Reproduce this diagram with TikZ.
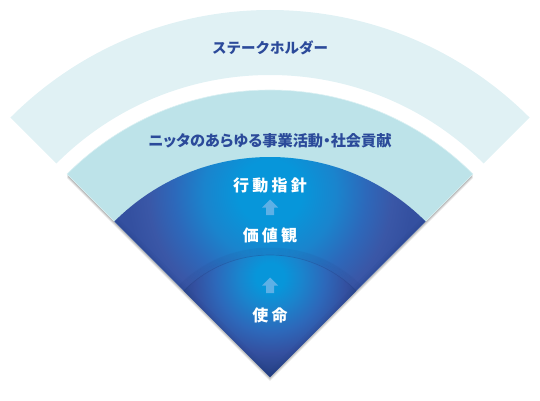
\documentclass[tikz,border=0pt]{standalone}
\usepackage{fontspec}
\newfontfamily\jp{Noto Sans CJK JP}
\newfontfamily\jpp{Noto Sans CJK JP}[RawFeature=+palt]
\newfontfamily\jpw{Noto Sans CJK JP}[LetterSpace=20]
\definecolor{outerband}{HTML}{E0F1F4}
\definecolor{lightband}{HTML}{BDE3E9}
\definecolor{txtblue}{HTML}{2B4A9A}
\definecolor{fb}{HTML}{0796DA}
\definecolor{fb2}{HTML}{1A84CD}
\definecolor{fm}{HTML}{2D68BA}
\definecolor{fd}{HTML}{3A57A7}
\definecolor{fd2}{HTML}{3450A0}
\definecolor{fdeep}{HTML}{233E80}
\definecolor{arrowc}{HTML}{5DB0E6}
\pgfdeclareradialshading{fanouter}{\pgfpoint{0bp}{0bp}}{color(0bp)=(fb); color(32bp)=(fb); color(66bp)=(fb2); color(96bp)=(fm); color(122bp)=(fd); color(142bp)=(fd2); color(200bp)=(fd2)}
\pgfdeclareradialshading{faninner}{\pgfpoint{0bp}{0bp}}{color(0bp)=(fb); color(14bp)=(fb); color(32bp)=(fb2); color(55bp)=(fm); color(76bp)=(fd2); color(100bp)=(fdeep); color(140bp)=(fdeep)}
\begin{document}
\begin{tikzpicture}[x=1pt,y=1pt,
  bluetext/.style={font=\jp\bfseries\fontsize{14.5}{16}\selectfont, text=txtblue, inner sep=0pt},
  whitetext/.style={font=\jpw\bfseries\fontsize{16}{18}\selectfont, text=white, inner sep=0pt},
  uparrow/.style={fill=arrowc}]
\useasboundingbox (0,0) rectangle (540,400);
\begin{scope}[shift={(270,23)}]
  % outer band
  \fill[outerband] (45:302pt) -- (45:367pt) arc[start angle=45,end angle=135,radius=367pt]
    -- (135:302pt) arc[start angle=135,end angle=45,radius=302pt] -- cycle;
  % soft shadow of the fan
  \foreach \s in {1,...,5} {
    \fill[black, opacity=0.07, yshift={-\s*0.8pt}] (0,0) -- (45:287pt)
      arc[start angle=45,end angle=135,radius=287pt] -- cycle;
  }
  % light band
  \fill[lightband, draw=white!45!lightband, line width=0.6pt] (0,0) -- (45:287pt)
    arc[start angle=45,end angle=135,radius=287pt] -- cycle;
  % blue outer section
  \begin{scope}
    \clip (0,0) -- (45:220pt) arc[start angle=45,end angle=135,radius=220pt] -- cycle;
    \node[inner sep=0pt] (shadeouter) at (0,185) {\pgfuseshading{fanouter}};
  \end{scope}
  % shadow above inner arc
  \foreach \r in {1,...,7} {
    \draw[fdeep, opacity=0.07, line width=1pt] (45:{122+\r}) arc[start angle=45,end angle=135,radius={(122+\r)*1pt}];
  }
  % blue inner section
  \begin{scope}
    \clip (0,0) -- (45:122pt) arc[start angle=45,end angle=135,radius=122pt] -- cycle;
    \node[inner sep=0pt] (shadeinner) at (0,100) {\pgfuseshading{faninner}};
  \end{scope}
  \draw[fdeep, opacity=0.35, line width=0.7pt] (45:122pt) arc[start angle=45,end angle=135,radius=122pt];
  % darker vignette along the straight edges of the blue fan
  \begin{scope}
    \clip (0,0) -- (45:220pt) arc[start angle=45,end angle=135,radius=220pt] -- cycle;
    \foreach \w in {3,6,10} {
      \draw[fdeep, opacity=0.07, line width=\w pt] (135:220pt) -- (0,0) -- (45:220pt);
    }
  \end{scope}
\end{scope}
\node[bluetext] (stake) at (270,352) {ステークホルダー};
\node[bluetext, font=\jpp\bfseries\fontsize{15.2}{17}\selectfont] (nitta) at (270,259) {ニッタのあらゆる事業活動・社会貢献};
\node[whitetext] (koudou) at (270,215) {行動指針};
\coordinate (ar1) at (270,192.5);
\fill[uparrow] ([shift={(0,8)}]ar1) -- ([shift={(8,0)}]ar1) -- ([shift={(4,0)}]ar1)
  -- ([shift={(4,-7.5)}]ar1) -- ([shift={(-4,-7.5)}]ar1) -- ([shift={(-4,0)}]ar1)
  -- ([shift={(-8,0)}]ar1) -- cycle;
\node[whitetext] (kachi) at (270,165) {価値観};
\coordinate (ar2) at (270,114.5);
\fill[uparrow] ([shift={(0,8)}]ar2) -- ([shift={(8,0)}]ar2) -- ([shift={(4,0)}]ar2)
  -- ([shift={(4,-7.5)}]ar2) -- ([shift={(-4,-7.5)}]ar2) -- ([shift={(-4,0)}]ar2)
  -- ([shift={(-8,0)}]ar2) -- cycle;
\node[whitetext] (shimei) at (270,85) {使命};
\end{tikzpicture}
\end{document}
